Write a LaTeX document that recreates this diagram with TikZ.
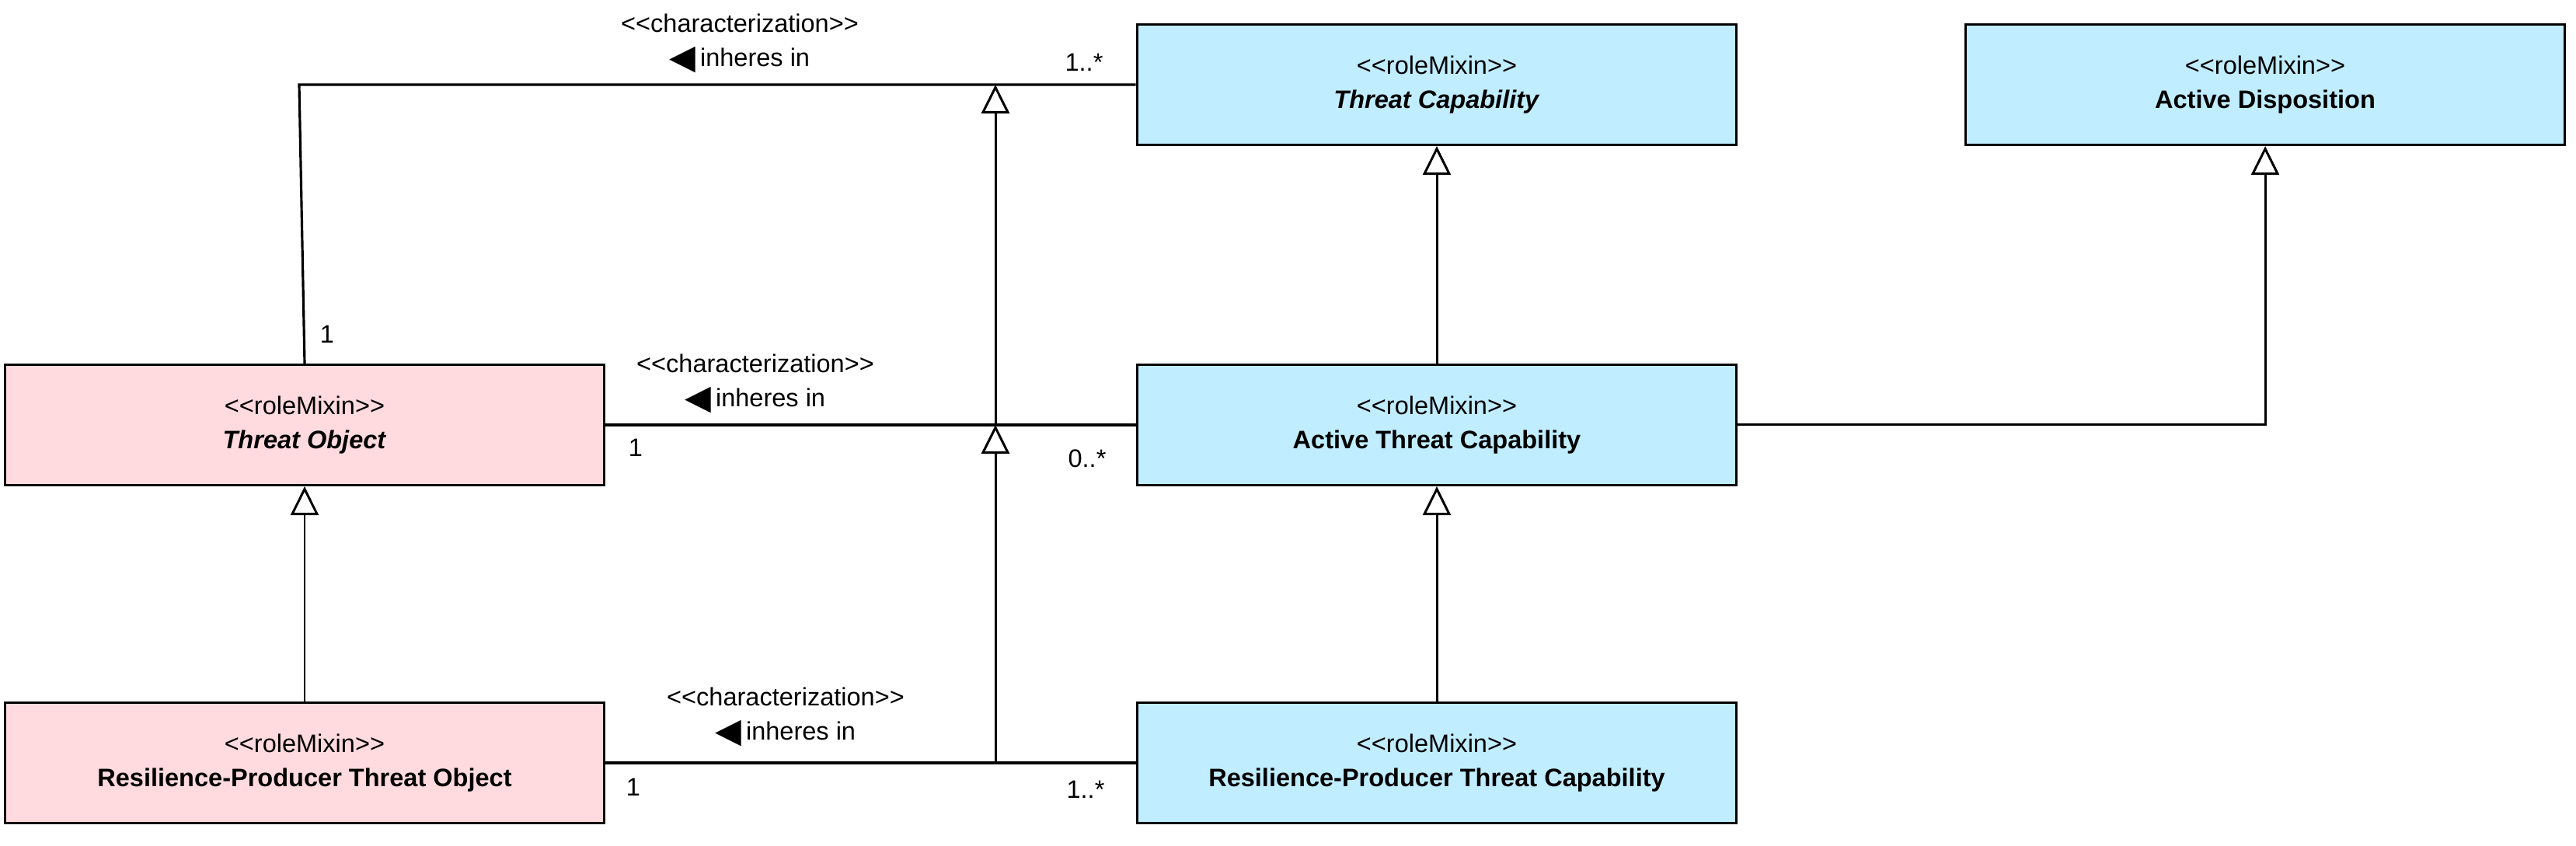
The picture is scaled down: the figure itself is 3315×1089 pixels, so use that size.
\documentclass[tikz,border=0pt]{standalone}
\usepackage{fontspec}
\setmainfont{Liberation Sans}
\newfontfamily\symfont{DejaVu Sans}
\usepackage{tikz}
\usetikzlibrary{positioning, arrows.meta}
\definecolor{RMPink}{RGB}{255,218,222}
\definecolor{RMBlue}{RGB}{192,237,255}
\newcommand{\stereo}[1]{<\kern0pt<#1>\kern0pt>}
\newcommand{\inheresin}{{\symfont\fontsize{12.5}{12}\selectfont\raisebox{-0.15ex}{◀}}\,inheres in}

\begin{document}
\begin{tikzpicture}[x=0.01cm, y=-0.01cm,
          objbox/.style={rectangle, draw=black, line width=0.9pt, fill=RMPink,
                      minimum width=7.71cm, minimum height=1.55cm, inner sep=0pt,
                      font=\fontsize{9.25}{12.5}\selectfont, align=center},
          capbox/.style={objbox, fill=RMBlue},
          assoc/.style={line width=0.9pt},
          gen/.style={-{Triangle[open, length=0.37cm, width=0.36cm]}, line width=0.85pt},
          lbl/.style={font=\fontsize{9.25}{12.5}\selectfont, align=center, inner sep=0pt},
          mult/.style={font=\fontsize{9.25}{11}\selectfont, inner sep=0pt}
        ]
        \useasboundingbox (0,0) rectangle (3315,1089);
        % Threat objects
        \node[objbox] (to)   at (392, 547) {\stereo{roleMixin}\\\textbf{\textit{Threat Object}}};
        \node[objbox] (rpto) at (392, 982) {\stereo{roleMixin}\\\textbf{Resilience-Producer Threat Object}};
        % Capabilities
        \node[capbox] (tc)   at (1849,109) {\stereo{roleMixin}\\\textbf{\textit{Threat Capability}}};
        \node[capbox] (ad)   at (2915,109) {\stereo{roleMixin}\\\textbf{Active Disposition}};
        \node[capbox] (atc)  at (1849,547) {\stereo{roleMixin}\\\textbf{Active Threat Capability}};
        \node[capbox] (rptc) at (1849,982) {\stereo{roleMixin}\\\textbf{Resilience-Producer Threat Capability}};

        \coordinate (bend) at (385,109);
        \coordinate (gx)   at (1281,0);

        % Characterizations
        \draw[assoc] (to.north) -- (bend) -- (tc.west);
        \draw[assoc] (to.east) -- (atc.west);
        \draw[assoc] (rpto.east) -- (rptc.west);
        \node[lbl] (c1) at (952, 56)  {\stereo{characterization}\\\inheresin};
        \node[lbl] (c2) at (972, 494) {\stereo{characterization}\\\inheresin};
        \node[lbl] (c3) at (1011,923) {\stereo{characterization}\\\inheresin};

        % Multiplicities
        \node[mult] (m1a) at (421, 430)  {1};
        \node[mult] (m1b) at (1395,80)   {1..*};
        \node[mult] (m2a) at (818, 576)  {1};
        \node[mult] (m2b) at (1399,590)  {0..*};
        \node[mult] (m3a) at (815, 1013) {1};
        \node[mult] (m3b) at (1397,1016) {1..*};

        % Generalizations
        \draw[gen] (gx |- rptc.west) -- (gx |- atc.west);
        \draw[gen] (gx |- atc.west) -- (gx |- tc.west);
        \draw[gen] (rpto) -- (to);
        \draw[gen] (rptc) -- (atc);
        \draw[gen] (atc) -- (tc);
        \draw[gen] (atc.east) -| (ad.south);
      \end{tikzpicture}
\end{document}
